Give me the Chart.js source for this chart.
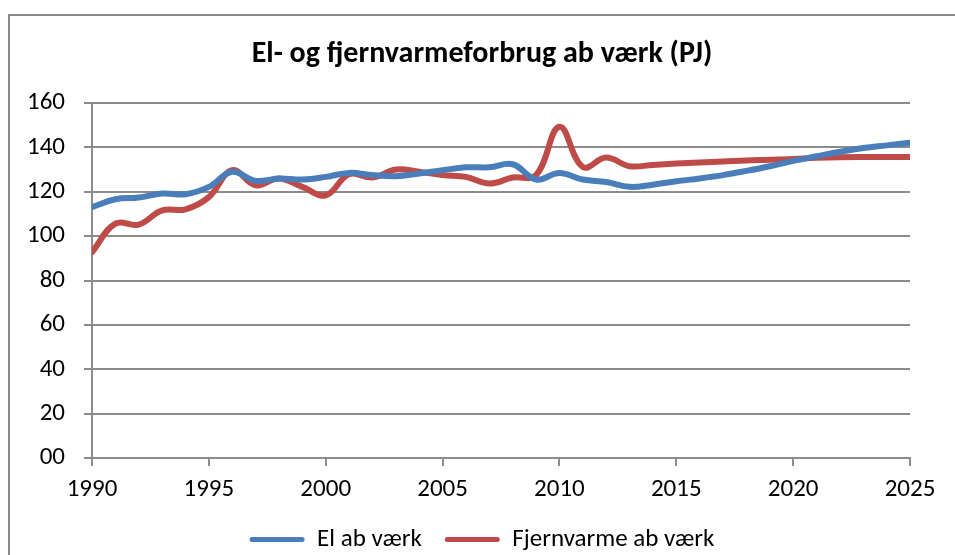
<!DOCTYPE html>
<html>
<head>
<meta charset="utf-8">
<script src="https://cdn.jsdelivr.net/npm/chart.js@4.4.1/dist/chart.umd.min.js"></script>
<style>
  html, body { margin: 0; padding: 0; background: #fff; overflow: hidden; }
  #wrap { position: relative; width: 955px; height: 555px; overflow: hidden; }
</style>
</head>
<body>
<div id="wrap"><canvas id="chart" width="955" height="562"></canvas></div>
<script>
// data
const years = [1990,1991,1992,1993,1994,1995,1996,1997,1998,1999,
               2000,2001,2002,2003,2004,2005,2006,2007,2008,2009,
               2010,2011,2012,2013,2014,2015,2016,2017,2018,2019,
               2020,2021,2022,2023,2024,2025];
const elValues = [113.1,116.6,117.4,119.2,118.9,122.2,129.0,124.9,126.0,125.5,
                  126.7,128.5,127.5,127.0,128.2,129.7,131.0,131.0,132.4,125.5,
                  128.5,125.5,124.4,122.2,123.2,124.7,126.0,127.5,129.4,131.5,
                  133.9,136.0,138.0,139.7,140.9,142.1];
const fjvValues = [92.8,105.6,105.2,111.6,112.1,117.6,129.7,122.9,126.0,122.2,
                   118.4,127.9,126.4,130.0,129.0,127.5,126.7,123.7,126.4,127.5,
                   149.3,131.2,135.4,131.5,132.1,132.7,133.2,133.6,134.1,134.4,
                   134.8,135.3,135.6,135.7,135.7,135.7];
const seriesNames = ["El ab værk", "Fjernvarme ab værk"];
const xTicks = [1990,1995,2000,2005,2010,2015,2020,2025];
const yTicks = [0,20,40,60,80,100,120,140,160];

const FONT = "Carlito, Lato, 'Open Sans', sans-serif";
const GRID = "#8c8c8c";
const BLUE = "#4a7ebb";
const RED = "#be4b48";

const toPoints = vals => vals.map((v, i) => ({ x: years[i], y: v }));

// outer chart frame (the reference shows a box cut by the window edge)
const framePlugin = {
  id: "frame",
  beforeDraw(chart) {
    const ctx = chart.ctx;
    ctx.save();
    ctx.strokeStyle = "#888";
    ctx.lineWidth = 2;
    ctx.strokeRect(9, 15, 2000, 2000);
    ctx.restore();
  }
};

new Chart(document.getElementById("chart"), {
  type: "line",
  data: {
    datasets: [
      {
        label: seriesNames[0],
        data: toPoints(elValues),
        borderColor: BLUE,
        backgroundColor: BLUE,
        borderWidth: 6,
        pointRadius: 0,
        tension: 0.4,
        borderCapStyle: "round"
      },
      {
        label: seriesNames[1],
        data: toPoints(fjvValues),
        borderColor: RED,
        backgroundColor: RED,
        borderWidth: 6,
        pointRadius: 0,
        tension: 0.4,
        borderCapStyle: "round"
      }
    ]
  },
  options: {
    responsive: false,
    animation: false,
    layout: { padding: { left: 9, right: 0, top: 0, bottom: 0 } },
    plugins: {
      title: {
        display: true,
        text: "El- og fjernvarmeforbrug ab værk (PJ)",
        color: "#000",
        font: { family: FONT, size: 30, weight: "bold" },
        padding: { top: 36, bottom: 31 }
      },
      legend: {
        position: "bottom",
        labels: {
          color: "#000",
          font: { family: FONT, size: 25 },
          boxWidth: 55,
          boxHeight: 5,
          padding: 23,
          useBorderRadius: true,
          borderRadius: 2.5,
          generateLabels(chart) {
            const items = Chart.defaults.plugins.legend.labels.generateLabels(chart);
            items.forEach(it => {
              it.fillStyle = it.strokeStyle;
              it.lineWidth = 0;
            });
            return items;
          }
        }
      },
      tooltip: { enabled: false }
    },
    scales: {
      x: {
        type: "linear",
        min: 1990,
        max: 2025,
        afterBuildTicks(scale) {
          scale.ticks = xTicks.map(v => ({ value: v }));
        },
        afterFit(scale) { scale.height = 46; },
        ticks: {
          color: "#000",
          font: { family: FONT, size: 25 },
          padding: 9,
          maxRotation: 0,
          callback: v => String(v)
        },
        grid: {
          drawOnChartArea: false,
          drawTicks: true,
          tickLength: 8,
          color: GRID,
          lineWidth: 2
        },
        border: { display: true, color: GRID, width: 2 }
      },
      y: {
        min: 0,
        max: 160,
        afterBuildTicks(scale) {
          scale.ticks = yTicks.map(v => ({ value: v }));
        },
        afterFit(scale) { scale.width = 83; },
        ticks: {
          color: "#000",
          font: { family: FONT, size: 25 },
          padding: 19,
          callback: v => (v === 0 ? "00" : String(v))
        },
        grid: {
          color: GRID,
          lineWidth: 2,
          tickLength: 8
        },
        border: { display: true, color: GRID, width: 2 }
      },
      // empty spacer on the right so the plot ends where the reference does
      spacer: {
        position: "right",
        min: 0,
        max: 1,
        afterFit(scale) { scale.width = 45; },
        ticks: { display: false },
        grid: { display: false },
        border: { display: false }
      }
    }
  },
  plugins: [framePlugin]
});
</script>
</body>
</html>
